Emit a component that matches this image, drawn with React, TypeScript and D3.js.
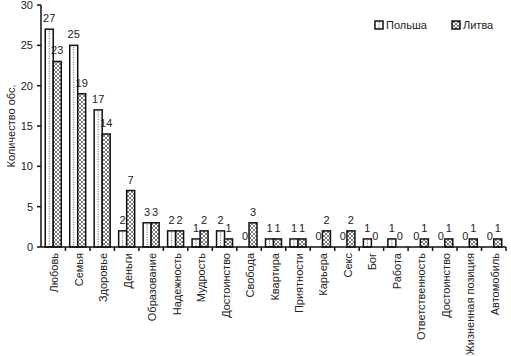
import React from "react";
import * as d3 from "d3";

const categories = [
  "Любовь", "Семья", "Здоровье", "Деньги", "Образование", "Надежность", "Мудрость",
  "Достоинство", "Свобода", "Квартира", "Приятности", "Карьера", "Секс", "Бог",
  "Работа", "Ответственность", "Достоинство ", "Жизненная позиция", "Автомобиль",
];
const poland = [27, 25, 17, 2, 3, 2, 1, 2, 0, 1, 1, 0, 0, 1, 1, 0, 0, 0, 0];
const lithuania = [23, 19, 14, 7, 3, 2, 2, 1, 3, 1, 1, 2, 2, 0, 0, 1, 1, 1, 1];
const seriesNames = ["Польша", "Литва"];
const yTicks = [0, 5, 10, 15, 20, 25, 30];

const W = 511, H = 356;
const left = 41, right = 506, top = 5, bottom = 247;
const font = "'Liberation Sans', Arial, sans-serif";

export default function App() {
  const x0 = d3.scaleBand<string>().domain(categories.map((c, i) => i + "")).range([left, right]).paddingInner(0).paddingOuter(0);
  const x1 = d3.scaleBand<string>().domain(seriesNames).range([0, x0.bandwidth()]).paddingInner(0).paddingOuter(0.53);
  const y = d3.scaleLinear().domain([0, 30]).range([bottom, top]);
  const bw = x1.bandwidth();
  const series = [poland, lithuania];

  return (
    <svg width={W} height={H} style={{ position: "absolute", left: 0, top: 0, background: "#fff" }}>
      <defs>
        <pattern id="cross" patternUnits="userSpaceOnUse" width="4" height="4">
          <rect width="4" height="4" fill="#fff" />
          <path d="M0,0 L4,4 M4,0 L0,4" stroke="#444" strokeWidth="0.7" />
        </pattern>
      </defs>
      {series.map((vals, si) =>
        vals.map((v, i) => {
          const bx = (x0(i + "") as number) + (x1(seriesNames[si]) as number);
          const by = y(v);
          const h = bottom - by;
          return (
            <g key={si + "-" + i}>
              {h > 0 && (
                <rect x={bx} y={by} width={bw} height={h} fill={si === 0 ? "#fff" : "url(#cross)"} stroke="#111" strokeWidth={1.5} />
              )}
              {h > 2 && si === 0 && (
                <line x1={bx + bw / 2} x2={bx + bw / 2} y1={by + 1.5} y2={bottom} stroke="#555" strokeWidth={1} strokeDasharray="1,1.5" />
              )}
              <text x={bx + bw / 2} y={by - 7} textAnchor="middle" fontFamily={font} fontSize={11} fill="#222">{v}</text>
            </g>
          );
        })
      )}
      {/* Y axis */}
      <line x1={left} x2={left} y1={top} y2={bottom} stroke="#111" strokeWidth={1.5} />
      {yTicks.map((t) => (
        <g key={t}>
          <line x1={left - 4} x2={left} y1={y(t)} y2={y(t)} stroke="#111" strokeWidth={1.5} />
          <text x={left - 8} y={y(t)} dy="0.35em" textAnchor="end" fontFamily={font} fontSize={11} fill="#222">{t}</text>
        </g>
      ))}
      {/* X axis */}
      <line x1={left} x2={right} y1={bottom} y2={bottom} stroke="#111" strokeWidth={1.5} />
      {categories.map((c, i) => (
        <line key={"t" + i} x1={(x0(i + "") as number) + x0.bandwidth()} x2={(x0(i + "") as number) + x0.bandwidth()} y1={bottom} y2={bottom + 4} stroke="#111" strokeWidth={1.5} />
      ))}
      {categories.map((c, i) => {
        const cx = (x0(i + "") as number) + x0.bandwidth() / 2;
        return (
          <text key={"l" + i} transform={`translate(${cx + 1},${bottom + 6}) rotate(-90)`} textAnchor="end" dominantBaseline="central" fontFamily={font} fontSize={11} fill="#222">{c.trim()}</text>
        );
      })}
      {/* Y label */}
      <text transform={`translate(11,${(top + bottom) / 2}) rotate(-90)`} textAnchor="middle" dominantBaseline="central" fontFamily={font} fontSize={11} fill="#222">Количество обс.</text>
      {/* Legend */}
      <rect x={375} y={21} width={8} height={8} fill="#fff" stroke="#111" strokeWidth={1.5} />
      <line x1={379} x2={379} y1={22} y2={29} stroke="#555" strokeWidth={1} strokeDasharray="1,1.5" />
      <text x={386} y={29} fontFamily={font} fontSize={11} fill="#222">Польша</text>
      <rect x={452} y={21} width={8} height={8} fill="url(#cross)" stroke="#111" strokeWidth={1.5} />
      <text x={463} y={29} fontFamily={font} fontSize={11} fill="#222">Литва</text>
    </svg>
  );
}
